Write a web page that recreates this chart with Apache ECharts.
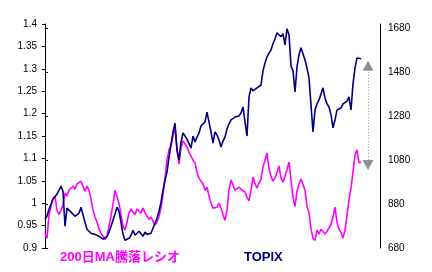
<!DOCTYPE html>
<html><head><meta charset="utf-8">
<script src="https://cdn.jsdelivr.net/npm/echarts@6/dist/echarts.min.js"></script>
<style>html,body{margin:0;padding:0;background:#fff}#c{width:432px;height:272px}</style>
</head><body><div id="c"></div>
<script>
const seriesNames = ['200日MA騰落レシオ', 'TOPIX'];
const leftTicks = [0.9, 1.4, 0.05];
const rightTicks = [680, 1680, 200];
const ratio200 = [0.933,0.922,0.973,0.993,1.011,1.016,0.984,0.975,0.984,0.996,1.022,1.016,1.029,1.025,1.038,1.031,1.043,1.047,1.049,1.038,1.027,1.038,1.029,1.009,0.984,0.969,0.958,0.942,0.933,0.926,0.919,0.926,0.949,0.971,0.998,1.029,1.031,1.000,0.973,0.949,0.940,0.958,0.978,0.987,0.980,0.975,0.987,0.984,0.978,0.989,0.978,0.971,0.964,0.969,0.960,0.951,0.958,0.971,0.989,1.018,1.056,1.096,1.119,1.130,1.150,1.170,1.119,1.087,1.123,1.139,1.141,1.125,1.114,1.105,1.096,1.090,1.069,1.056,1.052,1.043,1.029,1.036,1.016,1.000,0.989,0.993,0.991,1.000,0.989,0.975,0.962,0.984,1.029,1.052,1.056,1.029,1.025,1.036,1.031,1.027,1.025,1.013,1.005,1.029,1.058,1.043,1.034,1.045,1.054,1.081,1.096,1.112,1.078,1.060,1.049,1.056,1.069,1.083,1.056,1.047,1.043,1.074,1.092,1.052,1.013,0.993,1.027,1.043,1.054,1.058,1.029,0.993,0.980,0.942,0.922,0.917,0.940,0.931,0.942,0.940,0.931,0.937,0.940,0.953,0.969,0.991,0.958,0.942,0.935,0.922,0.940,0.973,1.007,1.034,1.069,1.107,1.119,1.090,1.092];
const topix = [811,824,856,879,902,911,925,934,961,938,779,861,852,843,838,824,815,838,865,861,797,765,756,747,752,742,747,733,729,720,724,733,752,779,806,834,865,847,797,742,715,706,724,738,761,738,733,756,747,733,752,742,738,747,770,793,815,847,888,943,988,1025,1093,1148,1208,1248,1125,1080,1162,1203,1189,1175,1166,1134,1189,1162,1184,1203,1235,1244,1253,1298,1289,1208,1157,1208,1194,1171,1139,1166,1184,1221,1244,1262,1266,1275,1271,1280,1294,1321,1253,1189,1367,1408,1394,1389,1408,1412,1421,1485,1521,1549,1567,1580,1608,1631,1658,1663,1640,1654,1603,1676,1649,1508,1485,1389,1503,1558,1590,1599,1535,1498,1453,1330,1208,1307,1335,1353,1380,1408,1362,1335,1321,1285,1226,1262,1307,1298,1316,1335,1344,1348,1367,1307,1426,1499,1544,1549,1540];
const arrowRange = [1508, 1057];

const FONT = '"Liberation Sans", Arial, "Noto Sans CJK JP", sans-serif';
const chart = echarts.init(document.getElementById('c'), null, {renderer: 'canvas'});
const xMax = 167.5;
const arrowX = 161.5;
chart.setOption({
  animation: false,
  backgroundColor: '#fff',
  grid: [
    {left: 45, right: 52, top: 24, bottom: 24},
    {left: 45, right: 52, top: 28, bottom: 24}
  ],
  xAxis: [
    {type: 'value', gridIndex: 0, min: 0, max: xMax, show: false},
    {type: 'value', gridIndex: 1, min: 0, max: xMax, show: false}
  ],
  yAxis: [
    {type: 'value', gridIndex: 0, position: 'left', min: leftTicks[0], max: leftTicks[1], interval: leftTicks[2],
     splitLine: {show: false},
     axisLine: {show: true, lineStyle: {color: '#000', width: 1}},
     axisTick: {show: true, length: 3, lineStyle: {color: '#000'}},
     axisLabel: {color: '#000', fontSize: 10, fontFamily: FONT, margin: 8,
                 formatter: v => String(Math.round(v * 100) / 100)}},
    {type: 'value', gridIndex: 1, position: 'right', min: rightTicks[0], max: rightTicks[1], interval: rightTicks[2],
     splitLine: {show: false},
     axisLine: {show: true, lineStyle: {color: '#000', width: 1}},
     axisTick: {show: true, length: 3, lineStyle: {color: '#000'}},
     axisLabel: {color: '#000', fontSize: 10, fontFamily: FONT, margin: 8,
                 formatter: v => String(Math.round(v))}},
    {type: 'value', gridIndex: 0, position: 'right', min: 0, max: 1,
     splitLine: {show: false},
     axisLine: {show: true, lineStyle: {color: '#000', width: 1}},
     axisTick: {show: false}, axisLabel: {show: false}}
  ],
  series: [
    {name: seriesNames[0], type: 'line', xAxisIndex: 0, yAxisIndex: 0,
     data: ratio200.map((v, i) => [i, v]), showSymbol: false, symbol: 'none',
     lineStyle: {color: '#FF00FF', width: 1.6}, z: 2},
    {name: seriesNames[1], type: 'line', xAxisIndex: 1, yAxisIndex: 1,
     data: topix.map((v, i) => [i, v]), showSymbol: false, symbol: 'none',
     lineStyle: {color: '#000080', width: 1.6}, z: 3,
     markLine: {
       silent: true, symbol: ['triangle', 'triangle'], symbolSize: [11, 10],
       label: {show: false},
       lineStyle: {color: '#909090', type: [1, 2], width: 1},
       itemStyle: {color: '#808080'},
       data: [[{coord: [arrowX, arrowRange[0]], itemStyle: {color: '#808080'}}, {coord: [arrowX, arrowRange[1]], itemStyle: {color: '#808080'}}]]
     }}
  ],
  graphic: [
    {type: 'text', left: 60, top: 251, style: {text: seriesNames[0], fill: '#FF00FF', font: 'bold 13px ' + FONT}},
    {type: 'text', left: 244, top: 251, style: {text: seriesNames[1], fill: '#000080', font: 'bold 13px ' + FONT}}
  ]
});
</script></body></html>
